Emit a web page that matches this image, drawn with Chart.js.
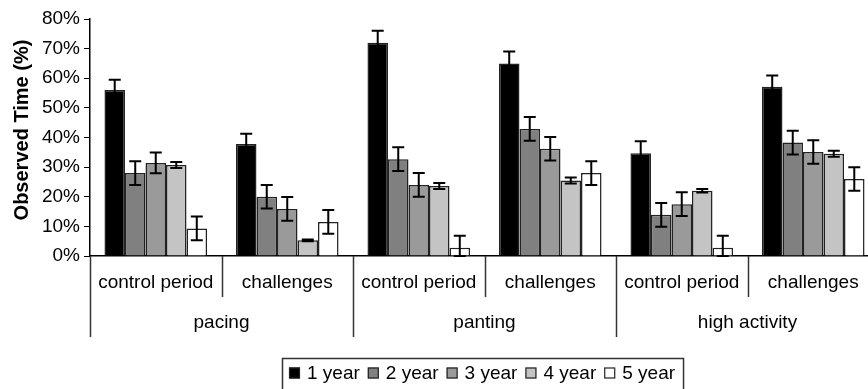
<!DOCTYPE html>
<html>
<head>
<meta charset="utf-8">
<script src="https://cdn.jsdelivr.net/npm/chart.js@4.4.1/dist/chart.umd.min.js"></script>
<style>
  html, body { margin: 0; padding: 0; background: #fff; overflow: hidden; }
  #wrap { width: 880px; height: 389px; }
</style>
</head>
<body>
<div id="wrap"><canvas id="chart" width="880" height="389"></canvas></div>
<script>
// categorías y grupos
const categories = ['control period', 'challenges', 'control period', 'challenges', 'control period', 'challenges'];
const groups = ['pacing', 'panting', 'high activity'];
const seriesNames = ['1 year', '2 year', '3 year', '4 year', '5 year'];
const yTicks = [0, 10, 20, 30, 40, 50, 60, 70, 80];

// valores (%)
const year1 = [56, 37.8, 72, 65, 34.7, 57.1];
const year2 = [28, 20, 32.7, 42.9, 13.9, 38.3];
const year3 = [31.4, 15.9, 24, 36.2, 17.5, 35.1];
const year4 = [30.7, 5.3, 23.6, 25.5, 22, 34.5];
const year5 = [9.3, 11.5, 2.8, 28, 2.8, 26];

// barras de error (+/-)
const err1 = [3.5, 3.5, 4, 4, 4, 3.8];
const err2 = [4, 4, 4, 4, 4, 4];
const err3 = [3.5, 4, 4, 4, 4, 4];
const err4 = [1, 0.3, 1, 1, 0.6, 1];
const err5 = [4, 4, 4, 4, 4, 4];

const fills = ['#000000', '#808080', '#9a9a9a', '#c4c4c4', '#ffffff'];
const allValues = [year1, year2, year3, year4, year5];
const allErrors = [err1, err2, err3, err4, err5];
const FONT = '"Liberation Sans", Arial, Helvetica, sans-serif';

const datasets = seriesNames.map((name, i) => ({
    label: name,
    data: allValues[i],
    errors: allErrors[i],
    backgroundColor: fills[i],
    borderColor: '#222',
    borderWidth: 1.5,
    categoryPercentage: 0.78,
    barPercentage: 1.0
}));

// plugin: barras de error, etiquetas del eje x, título y leyenda
const extras = {
    id: 'extras',
    afterDatasetsDraw(chart) {
        const ctx = chart.ctx;
        const y = chart.scales.y;
        ctx.save();
        ctx.strokeStyle = '#000';
        ctx.lineWidth = 2;
        chart.data.datasets.forEach((ds, di) => {
            const meta = chart.getDatasetMeta(di);
            meta.data.forEach((bar, i) => {
                const v = ds.data[i], e = ds.errors[i];
                const yTop = y.getPixelForValue(v + e);
                const yBot = y.getPixelForValue(Math.max(0, v - e));
                ctx.beginPath();
                ctx.moveTo(bar.x, yTop); ctx.lineTo(bar.x, yBot);
                ctx.moveTo(bar.x - 6, yTop); ctx.lineTo(bar.x + 6, yTop);
                ctx.moveTo(bar.x - 6, yBot); ctx.lineTo(bar.x + 6, yBot);
                ctx.stroke();
            });
        });
        ctx.restore();
    },
    afterDraw(chart) {
        const ctx = chart.ctx;
        const x = chart.scales.x;
        const area = chart.chartArea;
        const half = (x.getPixelForValue(1) - x.getPixelForValue(0)) / 2;
        ctx.save();

        // separadores
        ctx.strokeStyle = '#333';
        ctx.lineWidth = 1.5;
        for (let i = 0; i <= categories.length; i++) {
            const px = Math.round(x.getPixelForValue(i) - half) + 0.5;
            const bottom = i % 2 === 0 ? area.bottom + 81 : area.bottom + 41;
            ctx.beginPath();
            ctx.moveTo(px, area.bottom);
            ctx.lineTo(px, bottom);
            ctx.stroke();
        }

        // etiquetas
        ctx.fillStyle = '#000';
        ctx.font = '19px ' + FONT;
        ctx.textAlign = 'center';
        ctx.textBaseline = 'middle';
        categories.forEach((c, i) => {
            ctx.fillText(c, x.getPixelForValue(i), area.bottom + 27);
        });
        groups.forEach((g, i) => {
            const cx = (x.getPixelForValue(i * 2) + x.getPixelForValue(i * 2 + 1)) / 2;
            ctx.fillText(g, cx, area.bottom + 67);
        });

        // título del eje y
        ctx.save();
        ctx.translate(22, 130);
        ctx.rotate(-Math.PI / 2);
        ctx.font = 'bold 20px ' + FONT;
        ctx.fillText('Observed Time (%)', 0, 0);
        ctx.restore();

        // leyenda
        ctx.font = '19px ' + FONT;
        ctx.textAlign = 'left';
        let lx = 289;
        const ly = 373;
        seriesNames.forEach((name, i) => {
            ctx.fillStyle = fills[i];
            ctx.fillRect(lx, ly - 5.5, 11, 11);
            ctx.strokeStyle = '#222';
            ctx.lineWidth = 1.2;
            ctx.strokeRect(lx + 0.5, ly - 5, 10, 10);
            ctx.fillStyle = '#000';
            ctx.fillText(name, lx + 18, ly + 1);
            lx += 18 + ctx.measureText(name).width + 8;
        });
        ctx.strokeStyle = '#333';
        ctx.lineWidth = 1.5;
        ctx.strokeRect(282.5, 358.5, lx - 282, 40);
        ctx.restore();
    }
};

new Chart(document.getElementById('chart'), {
    type: 'bar',
    data: { labels: categories, datasets: datasets },
    options: {
        responsive: false,
        animation: false,
        devicePixelRatio: 1,
        layout: { padding: { top: 19, right: 1, left: 0, bottom: 0 } },
        plugins: { legend: { display: false }, tooltip: { enabled: false } },
        scales: {
            x: {
                grid: { display: false },
                ticks: { display: false },
                border: { display: true, color: '#000', width: 1.5 },
                afterFit(s) { s.height = 133; }
            },
            y: {
                min: 0,
                max: 80,
                afterBuildTicks(s) { s.ticks = yTicks.map(v => ({ value: v })); },
                ticks: {
                    callback: v => v + '%',
                    font: { size: 19, family: FONT },
                    color: '#000',
                    padding: 4
                },
                grid: { drawOnChartArea: false, drawTicks: true, tickLength: 6, color: '#000' },
                border: { display: true, color: '#000', width: 1.5 },
                afterFit(s) { s.width = 90; }
            }
        }
    },
    plugins: [extras]
});
</script>
</body>
</html>
